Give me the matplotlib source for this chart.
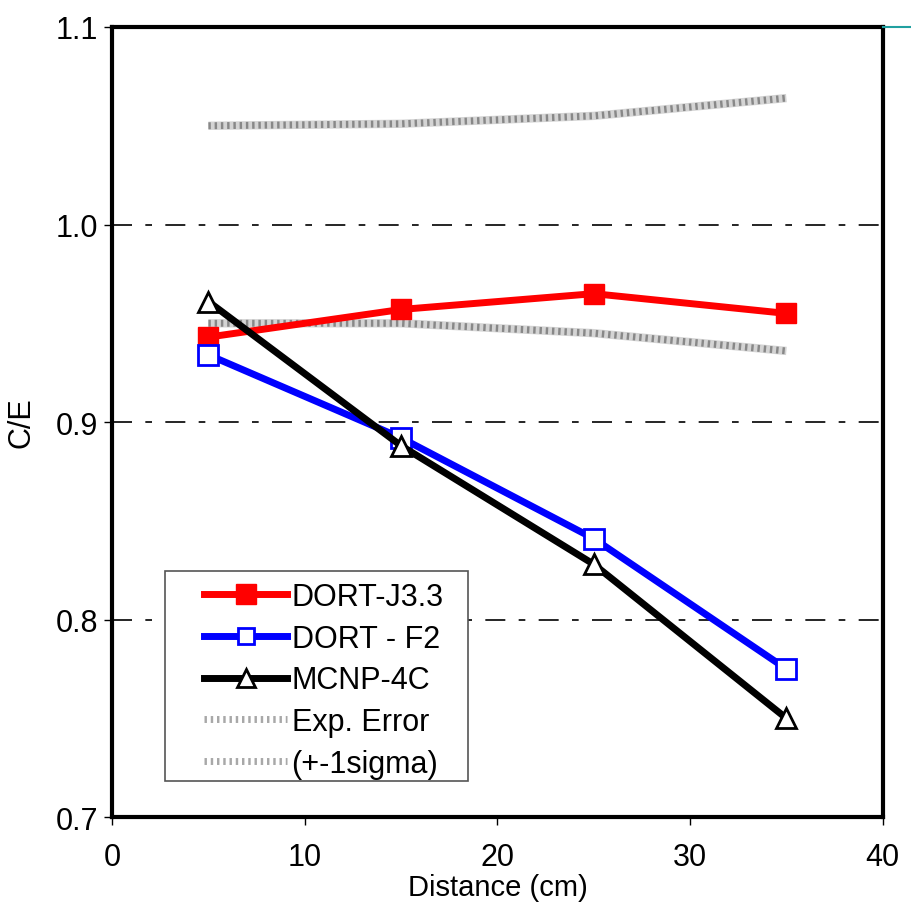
import numpy as np
import matplotlib.pyplot as plt
from matplotlib.lines import Line2D
from matplotlib.patches import Rectangle

plt.rcParams['font.family'] = ['Liberation Sans', 'DejaVu Sans']

dist = [5, 15, 25, 35]
dort_j33 = [0.943, 0.957, 0.965, 0.955]
dort_f2 = [0.934, 0.892, 0.841, 0.775]
mcnp_4c = [0.961, 0.888, 0.828, 0.750]
err_hi = [1.050, 1.051, 1.055, 1.064]
err_lo = [0.950, 0.950, 0.945, 0.936]

fig = plt.figure(figsize=(9.11, 9.03), dpi=100)
ax = fig.add_axes([0.123, 0.094, 0.846, 0.875])


def err_line(y):
    # grey hatched band look: light thick base with a dotted overlay
    ax.plot(dist, y, color='#d4d4d4', lw=6, solid_capstyle='butt', zorder=2)
    ax.plot(dist, y, color='#888888', lw=5, ls=(0, (0.35, 0.55)), zorder=2)


err_line(err_hi)
err_line(err_lo)

ax.plot(dist, dort_j33, color='red', lw=5, marker='s', ms=14, mfc='red', mec='red', zorder=4)
ax.plot(dist, dort_f2, color='blue', lw=5, marker='s', ms=14, mfc='white', mec='blue', mew=2, zorder=4)
ax.plot(dist, mcnp_4c, color='black', lw=5, marker='^', ms=14, mfc='white', mec='black', mew=2, zorder=5)

for y in [0.8, 0.9, 1.0]:
    ax.axhline(y, color='black', lw=1.2, ls=(0, (12, 8, 4, 8)), zorder=1)

ax.set_xlim(0, 40)
ax.set_ylim(0.7, 1.1)
ax.set_xticks([0, 10, 20, 30, 40])
ax.set_yticks([0.7, 0.8, 0.9, 1.0, 1.1])
ax.set_yticklabels(['0.7', '0.8', '0.9', '1.0', '1.1'])
ax.tick_params(labelsize=22, length=6, width=1, direction='out', pad=4)
ax.tick_params(axis='x', pad=12)
for s in ax.spines.values():
    s.set_linewidth(3)

fig.text(0.546, 0.001, 'Distance (cm)', fontsize=21, ha='center', va='bottom')
ax.set_ylabel('C/E', fontsize=22, labelpad=14)

# legend frame drawn separately so the padding inside it can be wider than tall
ax.add_patch(Rectangle((0.069, 0.046), 0.393, 0.265, transform=ax.transAxes,
                       facecolor='white', edgecolor='#555555', lw=1.2, zorder=6))

handles = [
    Line2D([], [], color='red', lw=5, marker='s', ms=15, mfc='red', mec='red'),
    Line2D([], [], color='blue', lw=5, marker='s', ms=12, mfc='white', mec='blue', mew=2),
    Line2D([], [], color='black', lw=5, marker='^', ms=13, mfc='white', mec='black', mew=2),
    Line2D([], [], color='#a8a8a8', lw=5, ls=(0, (0.35, 0.55))),
    Line2D([], [], color='#a8a8a8', lw=5, ls=(0, (0.35, 0.55))),
]
labels = ['DORT-J3.3', 'DORT - F2', 'MCNP-4C', 'Exp. Error', '(+-1sigma)']
leg = ax.legend(handles, labels, loc='lower left', bbox_to_anchor=(0.112, 0.041),
                fontsize=22, frameon=False, handlelength=2.7, borderaxespad=0,
                handletextpad=0.15, borderpad=0.2, labelspacing=0.38)
leg.set_zorder(7)

fig.add_artist(Line2D([0.969, 1.0], [0.969, 0.969], color='#20a0a0', lw=1.5))

fig.savefig('out.png', dpi=100)
